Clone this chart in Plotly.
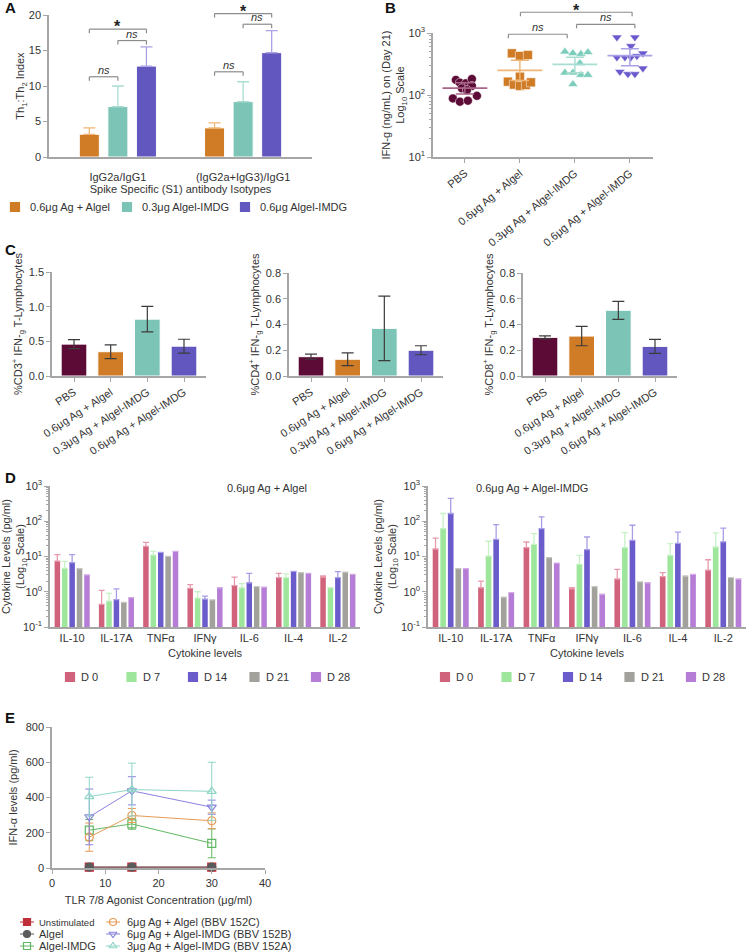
import math
import plotly.graph_objects as go

W, H = 747, 952
FONT = "Liberation Sans, Arial, sans-serif"
TXT = "#333333"
AX = "#a6a6a6"

# ---------------- Panel A: Th1:Th2 index ----------------
a_groups = ["IgG2a/IgG1", "(IgG2a+IgG3)/IgG1"]
a_names = ["0.6μg Ag + Algel", "0.3μg Algel-IMDG", "0.6μg Algel-IMDG"]
a_algel = [3.2, 4.1]
a_algel_err = [0.9, 0.7]
a_imdg03 = [7.1, 7.8]
a_imdg03_err = [2.9, 2.8]
a_imdg06 = [12.8, 14.7]
a_imdg06_err = [2.7, 3.1]
# significance brackets (group index, first bar, last bar, height, label)
a_sig_group = [0, 0, 0, 1, 1, 1]
a_sig_from = [0, 0, 1, 0, 0, 1]
a_sig_to = [2, 1, 2, 2, 1, 2]
a_sig_y = [18.0, 11.3, 16.4, 20.2, 12.0, 18.7]
a_sig_text = ["*", "ns", "ns", "*", "ns", "ns"]

# ---------------- Panel B: IFN-g day 21 ----------------
b_groups = ["PBS", "0.6μg Ag + Algel", "0.3μg Ag + Algel-IMDG", "0.6μg Ag + Algel-IMDG"]
b_pbs = [175, 158, 154, 181, 140, 128, 120, 97, 88, 78, 81]
b_pbs_jit = [-9, -5, 1, 7, 7, -3, 2, 12, -12, -5, 3]
b_algel = [470, 426, 442, 197, 164, 147, 140, 145, 160]
b_algel_jit = [-8, 0, 8, 0, -12, -6, 0, 6, 11]
b_imdg03 = [500, 470, 458, 487, 324, 229, 229, 210, 210, 149]
b_imdg03_jit = [-10, -2, 6, 13, 5, -10, -2, 6, 13, -2]
b_imdg06 = [851, 851, 617, 405, 405, 405, 426, 470, 238, 218, 218, 269]
b_imdg06_jit = [-13, 5, 1, -13, -5, 1, 7, 13, -10, -2, 5, 13]
b_mean = [129, 250, 313, 431]
b_lo = [104, 172, 229, 297]
b_hi = [158, 363, 405, 558]
b_sig_from = [1.01, 0.79, 2.03]
b_sig_to = [3.04, 1.86, 3.09]
b_sig_y = [2160, 955, 1380]
b_sig_text = ["*", "ns", "ns"]

# ---------------- Panel C: IFN-g+ T cells ----------------
c_groups = ["PBS", "0.6μg Ag + Algel", "0.3μg Ag + Algel-IMDG", "0.6μg Ag + Algel-IMDG"]
c_cd3 = [0.46, 0.35, 0.82, 0.43]
c_cd3_err = [0.065, 0.10, 0.185, 0.10]
c_cd4 = [0.15, 0.13, 0.37, 0.20]
c_cd4_err = [0.02, 0.05, 0.25, 0.035]
c_cd8 = [0.30, 0.31, 0.51, 0.23]
c_cd8_err = [0.012, 0.075, 0.07, 0.055]

# ---------------- Panel D: cytokines ----------------
d_cytokines = ["IL-10", "IL-17A", "TNFα", "IFNγ", "IL-6", "IL-4", "IL-2"]
d_days = ["D 0", "D 7", "D 14", "D 21", "D 28"]
dl_vals = [
    [7.3, 0.34, 19.3, 1.15, 1.4, 2.4, 2.5],
    [4.5, 0.44, 10.9, 0.56, 1.2, 2.4, 1.2],
    [6.6, 0.5, 13.0, 0.52, 1.7, 3.7, 2.4],
    [4.4, 0.4, 10.0, 0.49, 1.3, 3.4, 3.5],
    [2.9, 0.58, 13.8, 1.2, 1.25, 3.2, 3.0],
]
dl_tops = [
    [11.2, 1.0, 25.0, 1.5, 2.5, 3.2, 2.7],
    [7.2, 0.8, 13.8, 0.9, 1.6, 3.1, None],
    [11.2, 1.1, None, 0.65, 3.2, None, 3.6],
    [None] * 7,
    [None] * 7,
]
dr_vals = [
    [16.2, 1.2, 17.7, 1.1, 2.2, 2.6, 4.0],
    [62, 10.2, 22, 5.9, 17.7, 10.7, 18.5],
    [166, 30.6, 62, 15.5, 28.6, 23.5, 26],
    [4.45, 0.6, 9.2, 1.3, 1.8, 2.7, 2.4],
    [4.45, 0.85, 6.4, 0.75, 1.7, 3.0, 2.2],
]
dr_tops = [
    [33, 1.9, 25.7, 1.2, 4.2, 3.4, 8.0],
    [166, 27, 44.5, 10.7, 47.5, 23, 47],
    [445, 80, 133, 35.6, 77, 49, 64],
    [None] * 7,
    [None] * 7,
]

# ---------------- Panel E: IFN-a vs TLR7/8 agonist ----------------
e_conc = [7, 15, 30]
e_names = ["Unstimulated", "Algel", "Algel-IMDG",
           "6μg Ag + Algel (BBV 152C)", "6μg Ag + Algel-IMDG (BBV 152B)", "3μg Ag + Algel-IMDG (BBV 152A)"]
e_unstim = [5, 5, 5]
e_algel = [5, 5, 5]
e_algel_imdg = [215, 250, 140]
e_algel_imdg_err = [60, 30, 82]
e_bbv152c = [175, 298, 268]
e_bbv152c_err = [80, 40, 45]
e_bbv152b = [290, 438, 345]
e_bbv152b_err = [158, 80, 40]
e_bbv152a = [405, 445, 435]
e_bbv152a_err = [110, 150, 165]


def px(x):
    return x / W


def py(y):
    return 1 - y / H


def to_paper(v, bottom, top, r0, r1, log=False):
    if log:
        v = math.log10(v)
    pix = bottom - (v - r0) / (r1 - r0) * (bottom - top)
    return 1 - pix / H


def axis(**kw):
    base = dict(showline=True, linecolor=AX, linewidth=1.5, ticks="outside", ticklen=4,
                tickcolor=AX, tickwidth=1.2, showgrid=False, zeroline=False, automargin=False,
                tickfont=dict(size=11, color=TXT), title_font=dict(size=11, color=TXT))
    base.update(kw)
    return base


log_ticks = dict(tickvals=[0.1, 1, 10, 100, 1000],
                 ticktext=["10<sup>-1</sup>", "10<sup>0</sup>", "10<sup>1</sup>", "10<sup>2</sup>", "10<sup>3</sup>"],
                 minor=dict(ticks="outside", ticklen=2.5, tickcolor=AX, dtick="D1", showgrid=False))

ORANGE, TEAL, PURPLE, MAROON = "#d07b26", "#7cc4b5", "#6157be", "#5c0b36"
ORANGE_L, TEAL_L, PURPLE_L, MAROON_L = "#f0b677", "#a9ddd2", "#a9a2e6", "#a86588"

fig = go.Figure()
shapes, annotations = [], []


# legend keys are drawn by hand on a pixel overlay axis (x9/y9) so that rows sit where the figure has them
def key(xk, yk, text, color, symbol="square", size=9, line=False, text_dx=10, font_size=11):
    if line:
        fig.add_trace(go.Scatter(x=[xk - 7, xk + 7], y=[yk, yk], mode="lines", line=dict(color=color, width=1),
                                 xaxis="x9", yaxis="y9", showlegend=False, cliponaxis=False))
    fig.add_trace(go.Scatter(x=[xk], y=[yk], mode="markers", xaxis="x9", yaxis="y9", showlegend=False,
                             marker=dict(symbol=symbol, size=size, color=color, line=dict(color=color, width=1.2)),
                             cliponaxis=False))
    annotations.append(dict(xref="paper", yref="paper", x=px(xk + text_dx), y=py(yk), text=text,
                            showarrow=False, xanchor="left", yanchor="middle",
                            font=dict(size=font_size, color=TXT)))


# ---- A
a_slot, a_w = 0.228, 0.16
a_colors = [ORANGE, TEAL, PURPLE]
for i, (name, vals, errs, col, lcol) in enumerate(zip(
        a_names, [a_algel, a_imdg03, a_imdg06], [a_algel_err, a_imdg03_err, a_imdg06_err],
        a_colors, [ORANGE_L, TEAL_L, PURPLE_L])):
    fig.add_trace(go.Bar(
        x=[0, 1], y=vals, width=a_w, offset=(i - 1) * a_slot - a_w / 2, name=name,
        marker=dict(color=col, line=dict(color="white", width=1)),
        error_y=dict(type="data", array=errs, arrayminus=[0, 0], symmetric=False,
                     color=lcol, thickness=1.3, width=6),
        xaxis="x", yaxis="y", showlegend=False))
for name, col, xk in zip(a_names, a_colors, [15, 127, 245]):
    key(xk, 207, name, col, text_dx=13)


def bracket(xref, x0, x1, yp, text):
    dy = 4 / H
    for (xa, xb, ya, yb) in [(x0, x1, yp, yp), (x0, x0, yp, yp - dy), (x1, x1, yp, yp - dy)]:
        shapes.append(dict(type="line", xref=xref, yref="paper", x0=xa, x1=xb, y0=ya, y1=yb,
                           line=dict(color="#8c8c8c", width=1.2)))
    if text == "*":
        annotations.append(dict(xref=xref, yref="paper", x=(x0 + x1) / 2, y=min(yp + 13 / H, 1.0),
                                text="<b>*</b>", showarrow=False, yanchor="top",
                                font=dict(size=16, color="#222")))
    else:
        annotations.append(dict(xref=xref, yref="paper", x=(x0 + x1) / 2, y=yp - 0.001, text="<i>ns</i>",
                                showarrow=False, yanchor="bottom", font=dict(size=11, color="#333")))


for g, f, t, yv, txt in zip(a_sig_group, a_sig_from, a_sig_to, a_sig_y, a_sig_text):
    bracket("x", g + (f - 1) * a_slot, g + (t - 1) * a_slot, to_paper(yv, 157, 15, 0, 20), txt)

# ---- B
b_sets = [(b_pbs, b_pbs_jit, "circle", MAROON, MAROON_L),
          (b_algel, b_algel_jit, "square", ORANGE, ORANGE_L),
          (b_imdg03, b_imdg03_jit, "triangle-up", "#7ccdbb", TEAL_L),
          (b_imdg06, b_imdg06_jit, "triangle-down", "#6a5acd", PURPLE_L)]
for i, (vals, jit, sym, col, lcol) in enumerate(b_sets):
    fig.add_trace(go.Scatter(
        x=[i + j / 55 for j in jit], y=vals, mode="markers",
        marker=dict(symbol=sym, size=9, color=col, line=dict(color="white", width=0.5)),
        xaxis="x2", yaxis="y2", showlegend=False))
    fig.add_trace(go.Scatter(
        x=[i], y=[b_mean[i]], mode="markers",
        marker=dict(symbol="line-ew", size=32, line=dict(color=lcol, width=1.8)),
        error_y=dict(type="data", symmetric=False, array=[b_hi[i] - b_mean[i]],
                     arrayminus=[b_mean[i] - b_lo[i]], color=lcol, thickness=1.5, width=9),
        xaxis="x2", yaxis="y2", showlegend=False))
for f, t, yv, txt in zip(b_sig_from, b_sig_to, b_sig_y, b_sig_text):
    bracket("x2", f, t, to_paper(yv, 157, 33, 1, 3, log=True), txt)

# ---- C
c_colors = [MAROON, ORANGE, TEAL, PURPLE]
for k, (vals, errs) in enumerate([(c_cd3, c_cd3_err), (c_cd4, c_cd4_err), (c_cd8, c_cd8_err)]):
    fig.add_trace(go.Bar(
        x=[0, 1, 2, 3], y=vals, width=0.7,
        marker=dict(color=c_colors, line=dict(color="white", width=1)),
        error_y=dict(type="data", array=errs, color="#3c3c3c", thickness=1.2, width=6),
        xaxis="x%d" % (k + 3), yaxis="y%d" % (k + 3), showlegend=False))

# ---- D
d_colors = ["#d0627c", "#9de69c", "#6b5ccc", "#a3a19b", "#b57dd5"]
d_err_colors = ["#e89aac", "#c6f2c5", "#a79ee6", "#c8c6c0", "#d3ace6"]
d_slot, d_w = 0.167, 0.124
for vals_all, tops_all, xa, ya in [(dl_vals, dl_tops, "x6", "y6"), (dr_vals, dr_tops, "x7", "y7")]:
    for i, day in enumerate(d_days):
        vals, tops = vals_all[i], tops_all[i]
        up = [(t - v) if t is not None else None for v, t in zip(vals, tops)]
        fig.add_trace(go.Bar(
            x=list(range(len(d_cytokines))), y=vals, width=d_w, offset=(i - 2) * d_slot - d_w / 2,
            base=0.1, name=day, marker=dict(color=d_colors[i], line=dict(width=0)),
            error_y=dict(type="data", array=up, arrayminus=[0] * 7, symmetric=False,
                         color=d_err_colors[i], thickness=1.3, width=3),
            xaxis=xa, yaxis=ya, showlegend=False))
for x_start in [70, 445]:
    for i, day in enumerate(d_days):
        key(x_start + i * 61.5, 677, day, d_colors[i], size=9, text_dx=9)

# ---- E
e_sets = [
    (e_unstim, None, "square", "#c0303a"),
    (e_algel, None, "circle", "#5b5b5b"),
    (e_algel_imdg, e_algel_imdg_err, "square-open", "#62b862"),
    (e_bbv152c, e_bbv152c_err, "circle-open", "#e89a55"),
    (e_bbv152b, e_bbv152b_err, "triangle-down-open", "#8a82de"),
    (e_bbv152a, e_bbv152a_err, "triangle-up-open", "#8ed6c6"),
]
for k, (name, (vals, errs, sym, col)) in enumerate(zip(e_names, e_sets)):
    fig.add_trace(go.Scatter(
        x=e_conc, y=vals, mode="lines+markers", name=name,
        line=dict(color=col, width=1),
        marker=dict(symbol=sym, size=8, color=col, line=dict(color=col, width=1.2)),
        error_y=dict(type="data", array=errs, color=col, thickness=1, width=4) if errs else None,
        cliponaxis=False, xaxis="x8", yaxis="y8", showlegend=False))
    xk = 27 if k < 3 else 113
    key(xk, 922 + 12 * (k % 3), name, col, symbol=sym, size=7, line=True, text_dx=10 if k < 3 else 12,
        font_size=9.5 if name == "Unstimulated" else 11)

fig.update_layout(
    width=W, height=H, margin=dict(l=0, r=0, t=0, b=0, autoexpand=False),
    paper_bgcolor="white", plot_bgcolor="rgba(0,0,0,0)", barmode="overlay", showlegend=False,
    font=dict(family=FONT, size=11, color=TXT), hovermode=False,
    # A
    xaxis=axis(domain=[px(49), px(312)], range=[-0.55, 1.55], anchor="y", tickvals=[0, 1],
               ticktext=a_groups, ticklen=9, tickcolor="rgba(0,0,0,0)",
               title=dict(text="Spike Specific (S1) antibody Isotypes", standoff=1)),
    yaxis=axis(domain=[py(157), py(15)], range=[0, 20], anchor="x", tickvals=[0, 5, 10, 15, 20],
               title=dict(text="Th<sub>1</sub>:Th<sub>2</sub> Index", standoff=1)),
    # B
    xaxis2=axis(domain=[px(433), px(653)], range=[-0.58, 3.42], anchor="y2", tickvals=[0, 1, 2, 3],
                ticktext=b_groups, tickangle=-40),
    yaxis2=axis(domain=[py(157), py(33)], type="log", range=[1, 3], anchor="x2",
                title=dict(text="IFN-g (ng/mL) on (Day 21)<br>Log<sub>10</sub> Scale", standoff=0),
                **log_ticks),
    # C
    xaxis3=axis(domain=[px(52), px(206)], range=[-0.6, 3.6], anchor="y3", tickvals=[0, 1, 2, 3],
                ticktext=c_groups, tickangle=-33),
    yaxis3=axis(domain=[py(376), py(272)], range=[0, 1.5], anchor="x3", tickvals=[0, 0.5, 1.0, 1.5],
                tickformat=".1f", title=dict(text="%CD3<sup>+</sup> IFN-<sub>g</sub> T-Lymphocytes", standoff=4)),
    xaxis4=axis(domain=[px(289), px(443)], range=[-0.6, 3.6], anchor="y4", tickvals=[0, 1, 2, 3],
                ticktext=c_groups, tickangle=-33),
    yaxis4=axis(domain=[py(376), py(273)], range=[0, 0.8], anchor="x4", tickvals=[0, 0.2, 0.4, 0.6, 0.8],
                tickformat=".1f", title=dict(text="%CD4<sup>+</sup> IFN-<sub>g</sub> T-Lymphocytes", standoff=4)),
    xaxis5=axis(domain=[px(523), px(677)], range=[-0.6, 3.6], anchor="y5", tickvals=[0, 1, 2, 3],
                ticktext=c_groups, tickangle=-33),
    yaxis5=axis(domain=[py(376), py(273)], range=[0, 0.8], anchor="x5", tickvals=[0, 0.2, 0.4, 0.6, 0.8],
                tickformat=".1f", title=dict(text="%CD8<sup>+</sup> IFN-<sub>g</sub> T-Lymphocytes", standoff=4)),
    # D
    xaxis6=axis(domain=[px(50), px(360)], range=[-0.5, 6.5], anchor="y6", tickvals=list(range(7)),
                ticktext=d_cytokines, ticks="", title=dict(text="Cytokine levels", standoff=6)),
    yaxis6=axis(domain=[py(627), py(486)], type="log", range=[-1, 3], anchor="x6",
                title=dict(text="Cytokine Levels (pg/ml)<br>(Log<sub>10</sub> Scale)", standoff=2), **log_ticks),
    xaxis7=axis(domain=[px(428), px(746)], range=[-0.5, 6.5], anchor="y7", tickvals=list(range(7)),
                ticktext=d_cytokines, ticks="", title=dict(text="Cytokine levels", standoff=6)),
    yaxis7=axis(domain=[py(627), py(486)], type="log", range=[-1, 3], anchor="x7",
                title=dict(text="Cytokine Levels (pg/ml)<br>(Log<sub>10</sub> Scale)", standoff=2), **log_ticks),
    # E
    xaxis8=axis(domain=[px(52), px(265)], range=[0, 40], anchor="y8", tickvals=[0, 10, 20, 30, 40],
                title=dict(text="TLR 7/8 Agonist Concentration (μg/ml)", standoff=8)),
    yaxis8=axis(domain=[py(868), py(727)], range=[0, 800], anchor="x8", tickvals=[0, 200, 400, 600, 800],
                title=dict(text="IFN-α levels (pg/ml)", standoff=6)),
    # pixel overlay for legend keys
    xaxis9=dict(domain=[0, 1], range=[0, W], visible=False, fixedrange=True, anchor="y9"),
    yaxis9=dict(domain=[0, 1], range=[H, 0], visible=False, fixedrange=True, anchor="x9"),
)

for letter, (lx, ly) in zip("ABCDE", [(3, 8), (383, 8), (3, 250), (3, 477), (3, 717)]):
    annotations.append(dict(xref="paper", yref="paper", x=px(lx), y=py(ly), text="<b>%s</b>" % letter,
                            showarrow=False, xanchor="left", yanchor="middle",
                            font=dict(size=15, color="#111")))
for title, cx in [("0.6μg Ag + Algel", 225), ("0.6μg Ag + Algel-IMDG", 590)]:
    annotations.append(dict(xref="paper", yref="paper", x=px(cx), y=py(488), text=title,
                            showarrow=False, font=dict(size=11, color=TXT)))

fig.update_layout(shapes=shapes, annotations=annotations)
# the page body has a default 8px margin; drop it so the 747x952 figure fills the window exactly
fig.write_html("out.html", config={"displayModeBar": False},
               post_script="document.body.style.margin='0';")
